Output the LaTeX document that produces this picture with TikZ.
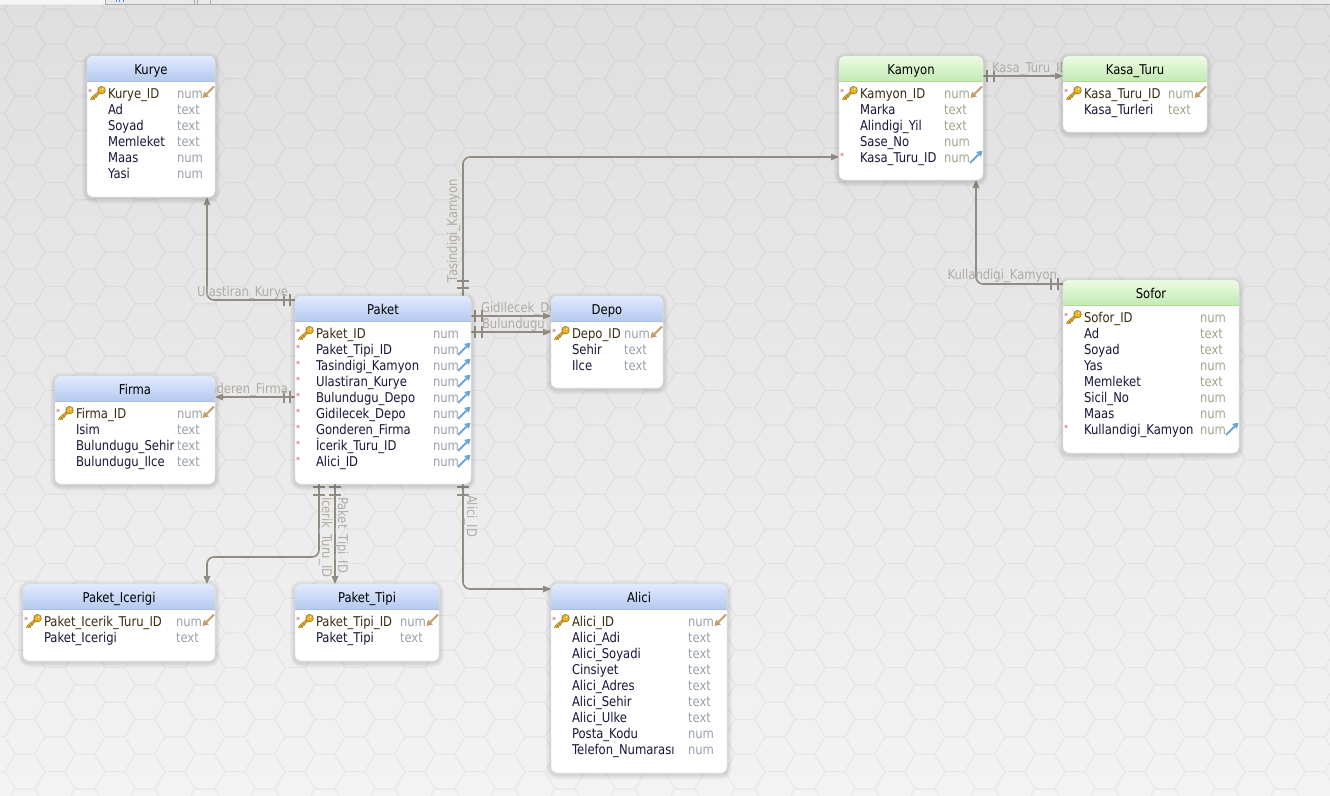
\documentclass[tikz,border=0pt]{standalone}
\usepackage{fontspec}
\setmainfont{DejaVu Sans}[FakeStretch=0.86]
\usetikzlibrary{arrows.meta}

\definecolor{bgtop}{HTML}{DFDFDF}
\definecolor{bgbot}{HTML}{F3F3F3}
\definecolor{relc}{HTML}{918B80}
\definecolor{labc}{HTML}{B0ACA6}
\definecolor{colname}{HTML}{16163A}
\definecolor{pkname}{HTML}{3A2A10}
\definecolor{bluetypec}{HTML}{99A0AE}
\definecolor{greentypec}{HTML}{A3A68E}
\definecolor{bluetop}{HTML}{E0EBFF}
\definecolor{bluebot}{HTML}{B5C9EF}
\definecolor{blueline}{HTML}{A9BEE4}
\definecolor{greentop}{HTML}{ECFCE4}
\definecolor{greenbot}{HTML}{C3EBB3}
\definecolor{greenline}{HTML}{ADD89C}
\definecolor{keygold}{HTML}{E6B52E}
\definecolor{keydark}{HTML}{9A7212}
\definecolor{pkarr}{HTML}{BFA064}
\definecolor{fkarr}{HTML}{6EA6D6}
\definecolor{nnred}{HTML}{D86A6A}
\definecolor{tbfill}{HTML}{E9E9E9}
\definecolor{tbline}{HTML}{ABABAB}

\tikzset{
  every node/.style={font=\fontsize{13.5pt}{16pt}\selectfont, inner sep=0pt, outer sep=0pt},
  tablebody/.style={fill=white, draw=black!10, line width=0.4pt, rounded corners=6pt},
  bluehead/.style={top color=bluetop, bottom color=bluebot},
  greenhead/.style={top color=greentop, bottom color=greenbot},
  bluetype/.style={text=bluetypec},
  greentype/.style={text=greentypec},
  rel/.style={draw=relc, line width=1.6pt, rounded corners=7pt,
    -{Triangle[length=8pt,width=6.5pt]}},
  relbar/.style={draw=relc, line width=1.4pt},
  rellabel/.style={text=labc},
}

% small gold key for primary-key rows
\newcommand{\keyicon}[2]{%
  \begin{scope}[shift={(#1,#2)}]
    \draw[keydark, line width=2.8pt, line cap=round] (12,-0.5) -- (4.5,6);
    \draw[keygold, line width=1.4pt, line cap=round] (12,-0.5) -- (4.5,6);
    \draw[keydark, line width=1.2pt] (6.2,4.6) -- (7.8,6.4) (8.4,2.7) -- (9.8,4.3);
    \filldraw[fill=keygold, draw=keydark, line width=0.6pt] (14.5,-2.8) circle (3.8pt);
    \fill[white!70!keygold] (15.6,-3.9) circle (1pt);
  \end{scope}}
% tiny red cross for not-null columns
\newcommand{\nnmark}[2]{%
  \draw[nnred, line width=0.6pt] (#1+1.7,#2-3.8) -- (#1+4.3,#2-1.2) (#1+1.7,#2-1.2) -- (#1+4.3,#2-3.8);}
% referenced primary key / foreign key markers at the right edge
\newcommand{\pkarrow}[2]{%
  \draw[pkarr, line width=2pt, -{Triangle[length=5.5pt,width=6.5pt]}] (#1-1,#2-6.5) -- (#1-12.5,#2+5);}
\newcommand{\fkarrow}[2]{%
  \draw[fkarr, line width=2pt, -{Triangle[length=5.5pt,width=6.5pt]}] (#1-13,#2+6) -- (#1-0.5,#2-6.5);}

% table: name, x1, y1, x2, y2, title, theme, type column x, rows (name/type/flag)
% flag: 0 plain, 1 referenced key, 2 key, 3 foreign key
\newcommand{\dbtable}[9]{%
  \pgfmathsetmacro{\tw}{#4-#2}\pgfmathsetmacro{\th}{#5-#3}
  % soft shadow from stacked translucent outlines
  \foreach \s in {1,2,3,4,5} {
    \fill[black, opacity=0.022, rounded corners=6pt+\s pt]
      (#2-\s,#3-\s+1.5) rectangle (#4+\s,#5+\s+1.5);
  }
  \node[tablebody, minimum width=\tw pt, minimum height=\th pt, anchor=north west] (#1) at (#2,#3) {};
  \begin{scope}
    \clip[rounded corners=6pt] (#2,#3) rectangle (#4,#5);
    \shade[#7head] (#2,#3) rectangle (#4,#3+25);
    \draw[#7line, line width=0.8pt] (#2,#3+25) -- (#4,#3+25);
  \end{scope}
  \draw[black!10, line width=0.4pt, rounded corners=6pt] (#2,#3) rectangle (#4,#5);
  \node[text=black, anchor=base] at ({(#2+#4)/2},#3+18) {#6};
  \foreach \cname/\ctype/\cflag [count=\i from 0] in {#9} {
    \pgfmathsetmacro{\yc}{#3+37+16*\i}
    \ifnum\cflag=1 \def\ncol{pkname}\else\ifnum\cflag=2 \def\ncol{pkname}\else\def\ncol{colname}\fi\fi
    \ifnum\cflag>0 \nnmark{#2}{\yc}\fi
    \ifnum\cflag=1 \keyicon{#2}{\yc}\fi
    \ifnum\cflag=2 \keyicon{#2}{\yc}\fi
    \node[text=\ncol, anchor=base west] at (#2+21,\yc+5) {\cname};
    \node[#7type, anchor=base west] at (#8,\yc+5) {\ctype};
    \ifnum\cflag=1 \pkarrow{#4}{\yc}\fi
    \ifnum\cflag=3 \fkarrow{#4}{\yc}\fi
  }
}

\begin{document}
\begin{tikzpicture}[x=1pt, y=-1pt]
\useasboundingbox (0,0) rectangle (1330,795);

% canvas background with honeycomb texture
\shade[top color=bgtop, bottom color=bgbot] (0,0) rectangle (1330,795);
\begin{scope}
  \clip (0,5) rectangle (1330,795);
  \draw[black, draw opacity=0.045, line width=1.2pt]
    \foreach \i [evaluate=\i as \cx using {\i*30-5}] in {0,...,45} {
      \foreach \j [evaluate=\j as \cy using {\j*34.641+mod(\i,2)*17.32-8}] in {0,...,24} {
        (\cx+10,\cy-17.32) -- (\cx-10,\cy-17.32) -- (\cx-20,\cy) -- (\cx-10,\cy+17.32)
      }
    };
\end{scope}

% tab strip along the top edge
\fill[tbfill] (0,0) rectangle (1330,4.5);
\fill[white!60!tbfill] (0,0) rectangle (105,4);
\draw[tbline, line width=0.8pt] (105,4.6) -- (1330,4.6);
\draw[tbline, line width=0.8pt] (105.5,0) -- (105.5,4.6) (194.5,0) -- (194.5,4.6)
  (197,0) -- (197,4.6) (210,0) -- (210,4.6);
\draw[fkarr!80!blue, line width=0.9pt] (116,0) -- (116,1.6) (119.5,0) -- (119.5,1.6) (123,0) -- (123,1.6);

% table outlines placed first so that connectors can refer to them;
% the tables themselves are drawn on top afterwards
\begin{scope}[opacity=0]
  \node[minimum width=128pt, minimum height=141pt, anchor=north west] (kurye) at (87,56) {};
  \node[minimum width=176pt, minimum height=188pt, anchor=north west] (paket) at (295,296) {};
  \node[minimum width=112pt, minimum height=92pt, anchor=north west] (depo) at (551,296) {};
  \node[minimum width=160pt, minimum height=108pt, anchor=north west] (firma) at (55,376) {};
  \node[minimum width=144pt, minimum height=124pt, anchor=north west] (kamyon) at (839,56) {};
  \node[minimum width=144pt, minimum height=76pt, anchor=north west] (kasa) at (1063,56) {};
  \node[minimum width=176pt, minimum height=173pt, anchor=north west] (sofor) at (1063,280) {};
  \node[minimum width=192pt, minimum height=77pt, anchor=north west] (icerigi) at (23,584) {};
  \node[minimum width=144pt, minimum height=77pt, anchor=north west] (tipi) at (295,584) {};
  \node[minimum width=176pt, minimum height=189pt, anchor=north west] (alici) at (551,584) {};
\end{scope}

% relations
\coordinate (k1) at ([yshift=-4pt]paket.north west);
\draw[rel] (k1) -| ([xshift=-8pt]kurye.south east);
\draw[relbar] ([xshift=-5pt]k1) ++(0,-6) -- ++(0,12) ([xshift=-11pt]k1) ++(0,-6) -- ++(0,12);
\node[rellabel, anchor=base east] at ([xshift=-7pt,yshift=4pt]k1) {Ulastiran\_Kurye};

\coordinate (k2) at ([xshift=-8pt]paket.north east);
\draw[rel] (k2) |- ([yshift=-101pt]kamyon.north west);
\draw[relbar] ([yshift=8pt]k2) ++(-6,0) -- ++(12,0) ([yshift=15pt]k2) ++(-6,0) -- ++(12,0);
\node[rellabel, rotate=90, anchor=base west] at ([xshift=-6pt,yshift=14pt]k2) {Tasindigi\_Kamyon};

\coordinate (k3) at ([yshift=-20pt]paket.north east);
\draw[rel] (k3) -- ([yshift=-20pt]depo.north west);
\draw[relbar] ([xshift=4pt]k3) ++(0,-6) -- ++(0,12) ([xshift=11pt]k3) ++(0,-6) -- ++(0,12);
\node[rellabel, anchor=base west] at ([xshift=10pt,yshift=4pt]k3) {Gidilecek\_Depo};

\coordinate (k4) at ([yshift=-36pt]paket.north east);
\draw[rel] (k4) -- ([yshift=-36pt]depo.north west);
\draw[relbar] ([xshift=4pt]k4) ++(0,-6) -- ++(0,12) ([xshift=11pt]k4) ++(0,-6) -- ++(0,12);
\node[rellabel, anchor=base west] at ([xshift=11pt,yshift=4pt]k4) {Bulundugu\_Depo};

\coordinate (k5) at ([yshift=-101pt]paket.north west);
\draw[rel] (k5) -- ([yshift=-21pt]firma.north east);
\draw[relbar] ([xshift=-5pt]k5) ++(0,-6) -- ++(0,12) ([xshift=-11pt]k5) ++(0,-6) -- ++(0,12);
\node[rellabel, anchor=base east] at ([xshift=-7pt,yshift=4pt]k5) {Gonderen\_Firma};

\coordinate (k6) at ([xshift=24pt]paket.south west);
\coordinate (e6) at ([xshift=-8pt]icerigi.north east);
\draw[rel] (k6) |- ([yshift=27pt]e6) -- (e6);
\draw[relbar] ([yshift=-3pt]k6) ++(-6,0) -- ++(12,0) ([yshift=-11pt]k6) ++(-6,0) -- ++(12,0);
\node[rellabel, rotate=-90, anchor=base west] at ([xshift=3pt,yshift=-13pt]k6) {İcerik\_Turu\_ID};

\coordinate (k7) at ([xshift=40pt]paket.south west);
\draw[rel] (k7) -- ([xshift=40pt]tipi.north west);
\draw[relbar] ([yshift=-3pt]k7) ++(-6,0) -- ++(12,0) ([yshift=-11pt]k7) ++(-6,0) -- ++(12,0);
\node[rellabel, rotate=-90, anchor=base west] at ([xshift=3pt,yshift=-13pt]k7) {Paket\_Tipi\_ID};

\coordinate (k8) at ([xshift=-8pt]paket.south east);
\draw[rel] (k8) |- ([yshift=-5pt]alici.north west);
\draw[relbar] ([yshift=-3pt]k8) ++(-6,0) -- ++(12,0) ([yshift=-11pt]k8) ++(-6,0) -- ++(12,0);
\node[rellabel, rotate=-90, anchor=base west] at ([xshift=4pt,yshift=-11pt]k8) {Alici\_ID};

\coordinate (k9) at ([yshift=-20pt]kamyon.north east);
\draw[rel] (k9) -- ([yshift=-20pt]kasa.north west);
\draw[relbar] ([xshift=4pt]k9) ++(0,-6) -- ++(0,12) ([xshift=11pt]k9) ++(0,-6) -- ++(0,12);
\node[rellabel, anchor=base west] at ([xshift=9pt,yshift=4pt]k9) {Kasa\_Turu\_ID};

\coordinate (k10) at ([yshift=-4pt]sofor.north west);
\draw[rel] (k10) -| ([xshift=-7pt]kamyon.south east);
\draw[relbar] ([xshift=-5pt]k10) ++(0,-6) -- ++(0,12) ([xshift=-12pt]k10) ++(0,-6) -- ++(0,12);
\node[rellabel, anchor=base east] at ([xshift=-6pt,yshift=4.5pt]k10) {Kullandigi\_Kamyon};

% tables
\dbtable{kurye}{87}{56}{215}{197}{Kurye}{blue}{177}{%
  Kurye\_ID/num/1, Ad/text/0, Soyad/text/0, Memleket/text/0, Maas/num/0, Yasi/num/0}
\dbtable{paket}{295}{296}{471}{484}{Paket}{blue}{433}{%
  Paket\_ID/num/2, Paket\_Tipi\_ID/num/3, Tasindigi\_Kamyon/num/3, Ulastiran\_Kurye/num/3,
  Bulundugu\_Depo/num/3, Gidilecek\_Depo/num/3, Gonderen\_Firma/num/3,
  İcerik\_Turu\_ID/num/3, Alici\_ID/num/3}
\dbtable{depo}{551}{296}{663}{388}{Depo}{blue}{624}{%
  Depo\_ID/num/1, Sehir/text/0, Ilce/text/0}
\dbtable{firma}{55}{376}{215}{484}{Firma}{blue}{177}{%
  Firma\_ID/num/1, Isim/text/0, Bulundugu\_Sehir/text/0, Bulundugu\_Ilce/text/0}
\dbtable{kamyon}{839}{56}{983}{180}{Kamyon}{green}{944}{%
  Kamyon\_ID/num/1, Marka/text/0, Alindigi\_Yil/text/0, Sase\_No/num/0, Kasa\_Turu\_ID/num/3}
\dbtable{kasa}{1063}{56}{1207}{132}{Kasa\_Turu}{green}{1168}{%
  Kasa\_Turu\_ID/num/1, Kasa\_Turleri/text/0}
\dbtable{sofor}{1063}{280}{1239}{453}{Sofor}{green}{1200}{%
  Sofor\_ID/num/2, Ad/text/0, Soyad/text/0, Yas/num/0, Memleket/text/0,
  Sicil\_No/num/0, Maas/num/0, Kullandigi\_Kamyon/num/3}
\dbtable{icerigi}{23}{584}{215}{661}{Paket\_Icerigi}{blue}{176}{%
  Paket\_Icerik\_Turu\_ID/num/1, Paket\_Icerigi/text/0}
\dbtable{tipi}{295}{584}{439}{661}{Paket\_Tipi}{blue}{400}{%
  Paket\_Tipi\_ID/num/1, Paket\_Tipi/text/0}
\dbtable{alici}{551}{584}{727}{773}{Alici}{blue}{688}{%
  Alici\_ID/num/1, Alici\_Adi/text/0, Alici\_Soyadi/text/0, Cinsiyet/text/0,
  Alici\_Adres/text/0, Alici\_Sehir/text/0, Alici\_Ulke/text/0, Posta\_Kodu/num/0,
  Telefon\_Numarası/num/0}
\end{tikzpicture}
\end{document}
